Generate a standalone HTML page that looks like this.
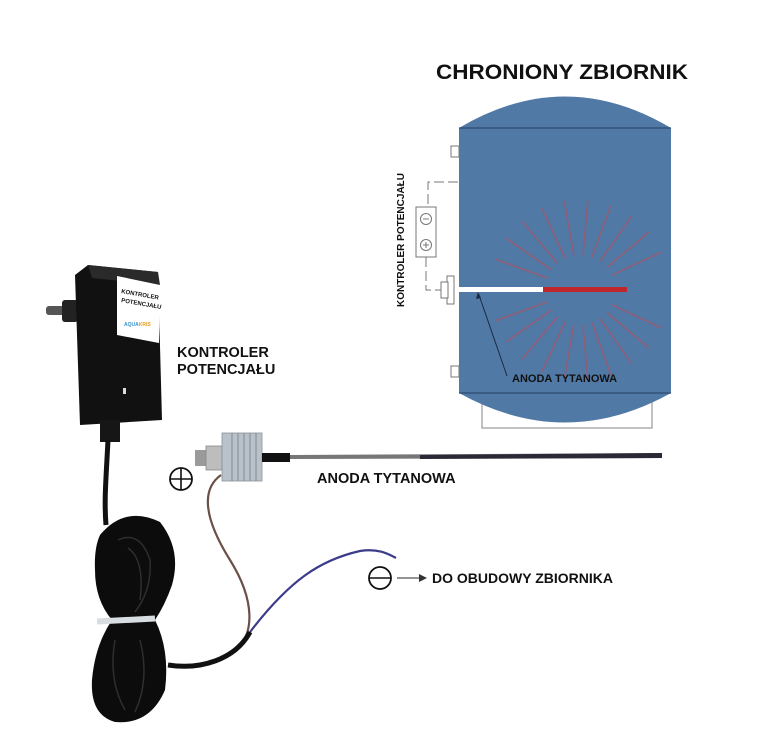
<!DOCTYPE html>
<html><head><meta charset="utf-8"><style>
html,body{margin:0;padding:0;background:#fff;}
svg{display:block}
text{font-family:"Liberation Sans",Arial,sans-serif;font-weight:bold;fill:#111}
</style></head><body>
<svg width="759" height="745" viewBox="0 0 759 745" xmlns="http://www.w3.org/2000/svg">
<text x="562" y="79" font-size="21" text-anchor="middle" textLength="252" lengthAdjust="spacingAndGlyphs">CHRONIONY ZBIORNIK</text>
<!-- tank -->
<rect x="482" y="392" width="170" height="36" fill="none" stroke="#999" stroke-width="1.2"/>
<path d="M459 128 Q565 65 671 128 L671 393 Q565 452 459 393 Z" fill="#5079a6"/>
<line x1="459" y1="128" x2="671" y2="128" stroke="#2c4c70" stroke-width="1.2"/>
<line x1="459" y1="393" x2="671" y2="393" stroke="#2c4c70" stroke-width="1.2"/>
<g stroke="#9a5a70" stroke-width="1.6" opacity="0.85">
<line x1="611.7" y1="275.2" x2="661.5" y2="252"/><line x1="606.8" y1="267.5" x2="648.9" y2="232.1"/>
<line x1="600.1" y1="261.3" x2="631.6" y2="216.3"/><line x1="592" y1="257.1" x2="610.8" y2="205.4"/>
<line x1="583" y1="255.1" x2="587.8" y2="200.4"/><line x1="573.9" y1="255.5" x2="564.3" y2="201.4"/>
<line x1="565.2" y1="258.3" x2="541.9" y2="208.5"/><line x1="557.5" y1="263.2" x2="522.1" y2="221.1"/>
<line x1="551.3" y1="269.9" x2="506.3" y2="238.3"/><line x1="547.1" y1="278" x2="495.4" y2="259.2"/>
<line x1="611.7" y1="304.8" x2="661.5" y2="328"/><line x1="606.8" y1="312.5" x2="648.9" y2="347.9"/>
<line x1="600.1" y1="318.7" x2="631.6" y2="363.7"/><line x1="592" y1="322.9" x2="610.8" y2="374.6"/>
<line x1="583" y1="324.9" x2="587.8" y2="379.6"/><line x1="573.9" y1="324.5" x2="564.3" y2="378.6"/>
<line x1="565.2" y1="321.7" x2="541.9" y2="371.5"/><line x1="557.5" y1="316.8" x2="522.1" y2="358.9"/>
<line x1="551.3" y1="310.1" x2="506.3" y2="341.7"/><line x1="547.1" y1="302" x2="495.4" y2="320.8"/>
</g>
<rect x="459" y="287" width="84" height="5" fill="#fff"/>
<rect x="543" y="287" width="84" height="5" fill="#c0272d"/>
<line x1="507" y1="376" x2="479" y2="295" stroke="#1a2a40" stroke-width="1"/>
<path d="M478 292 L476 299 L481 298 Z" fill="#1a2a40"/>
<text x="512" y="382" font-size="11">ANODA TYTANOWA</text>
<!-- left schematic -->
<g fill="#fff" stroke="#777" stroke-width="1">
<rect x="451" y="146" width="8" height="11"/><rect x="451" y="366" width="8" height="11"/>
<rect x="416" y="207" width="20" height="50"/>
<rect x="447" y="276" width="7" height="28"/><rect x="441" y="282" width="7" height="16"/>
</g>
<path d="M458 182 H428 V207 M426 257 V290 H441" fill="none" stroke="#777" stroke-width="1" stroke-dasharray="10 4"/>
<circle cx="426" cy="219" r="5.5" fill="none" stroke="#777"/><line x1="423" y1="219" x2="429" y2="219" stroke="#777"/>
<circle cx="426" cy="245" r="5.5" fill="none" stroke="#777"/><line x1="423" y1="245" x2="429" y2="245" stroke="#777"/><line x1="426" y1="242" x2="426" y2="248" stroke="#777"/>
<text transform="translate(404,240) rotate(-90)" font-size="10" text-anchor="middle">KONTROLER POTENCJAŁU</text>
<!-- controller -->
<rect x="46" y="306" width="30" height="9" rx="3" fill="#555"/>
<rect x="62" y="300" width="16" height="22" rx="3" fill="#222"/>
<path d="M88 265 L158 272 L162 420 L80 425 L75 275 Z" fill="#111"/>
<path d="M88 265 L158 272 L160 285 L92 278 Z" fill="#2a2a2a"/>
<path d="M117 276 L160 285 L159 343 L117 335 Z" fill="#fff"/>
<text x="121" y="293" font-size="6" transform="rotate(10 121 293)">KONTROLER</text>
<text x="121" y="302" font-size="6" transform="rotate(10 121 302)">POTENCJAŁU</text>
<text x="124" y="326" font-size="5" style="fill:#3a8fd0">AQUA<tspan style="fill:#e8a020">KRIS</tspan></text>
<rect x="123" y="388" width="3" height="6" fill="#ddd"/>
<rect x="100" y="420" width="20" height="22" fill="#161616"/>
<text x="177" y="357" font-size="14.5">KONTROLER</text>
<text x="177" y="374" font-size="14.5">POTENCJAŁU</text>
<!-- cables -->
<path d="M108 440 C106 480 104 500 106 525" stroke="#111" stroke-width="5" fill="none"/>
<path d="M221 475 C200 490 205 520 230 560 C255 600 255 635 235 650" stroke="#6b5048" stroke-width="2.2" fill="none"/>
<path d="M250 632 C290 580 320 560 360 551 C380 548 390 555 396 558" stroke="#3c3c8a" stroke-width="2.2" fill="none"/>
<path d="M250 632 C235 660 200 670 168 665" stroke="#111" stroke-width="5" fill="none"/>
<path d="M100 535 Q125 505 160 522 Q182 550 172 585 Q165 605 155 620 Q170 650 165 690 Q150 725 115 722 Q90 715 92 680 Q95 645 112 620 Q95 600 95 570 Q94 548 100 535 Z" fill="#0c0c0c"/>
<g stroke="#2e2e2e" stroke-width="1.5" fill="none">
<path d="M118 540 Q140 530 150 560 Q152 590 135 612"/>
<path d="M128 548 Q145 560 140 600"/>
<path d="M115 640 Q108 680 125 710"/>
<path d="M140 640 Q150 680 135 712"/>
</g>
<rect x="97" y="617" width="58" height="6" fill="#d8dde2" transform="rotate(-3 126 620)"/>
<!-- anode fitting -->
<rect x="195" y="450" width="12" height="16" fill="#9a9a9a"/>
<rect x="206" y="446" width="16" height="24" fill="#bdbdbd" stroke="#888" stroke-width="0.8"/>
<rect x="222" y="433" width="40" height="48" fill="#b9c2ca" stroke="#8a9299" stroke-width="0.8"/>
<g stroke="#8a939a" stroke-width="1.2"><line x1="232" y1="433" x2="232" y2="481"/><line x1="238" y1="433" x2="238" y2="481"/><line x1="244" y1="433" x2="244" y2="481"/><line x1="250" y1="433" x2="250" y2="481"/><line x1="256" y1="433" x2="256" y2="481"/></g>
<rect x="262" y="453" width="28" height="9" fill="#111"/>
<path d="M290 455 L662 453 L662 458 L290 459 Z" fill="#777"/>
<path d="M420 455 L662 453 L662 458 L420 459 Z" fill="#2a2a36"/>
<text x="317" y="483" font-size="14.5">ANODA TYTANOWA</text>
<circle cx="181" cy="479" r="11" fill="none" stroke="#111" stroke-width="1.8"/>
<line x1="170" y1="479" x2="192" y2="479" stroke="#111" stroke-width="1.6"/><line x1="181" y1="468" x2="181" y2="490" stroke="#111" stroke-width="1.6"/>
<circle cx="380" cy="578" r="11" fill="none" stroke="#111" stroke-width="1.8"/>
<line x1="369" y1="578" x2="391" y2="578" stroke="#111" stroke-width="1.6"/>
<line x1="397" y1="578" x2="420" y2="578" stroke="#555" stroke-width="1.3"/>
<path d="M427 578 L419 574 L419 582 Z" fill="#333"/>
<text x="432" y="583" font-size="14">DO OBUDOWY ZBIORNIKA</text>
</svg>
</body></html>
